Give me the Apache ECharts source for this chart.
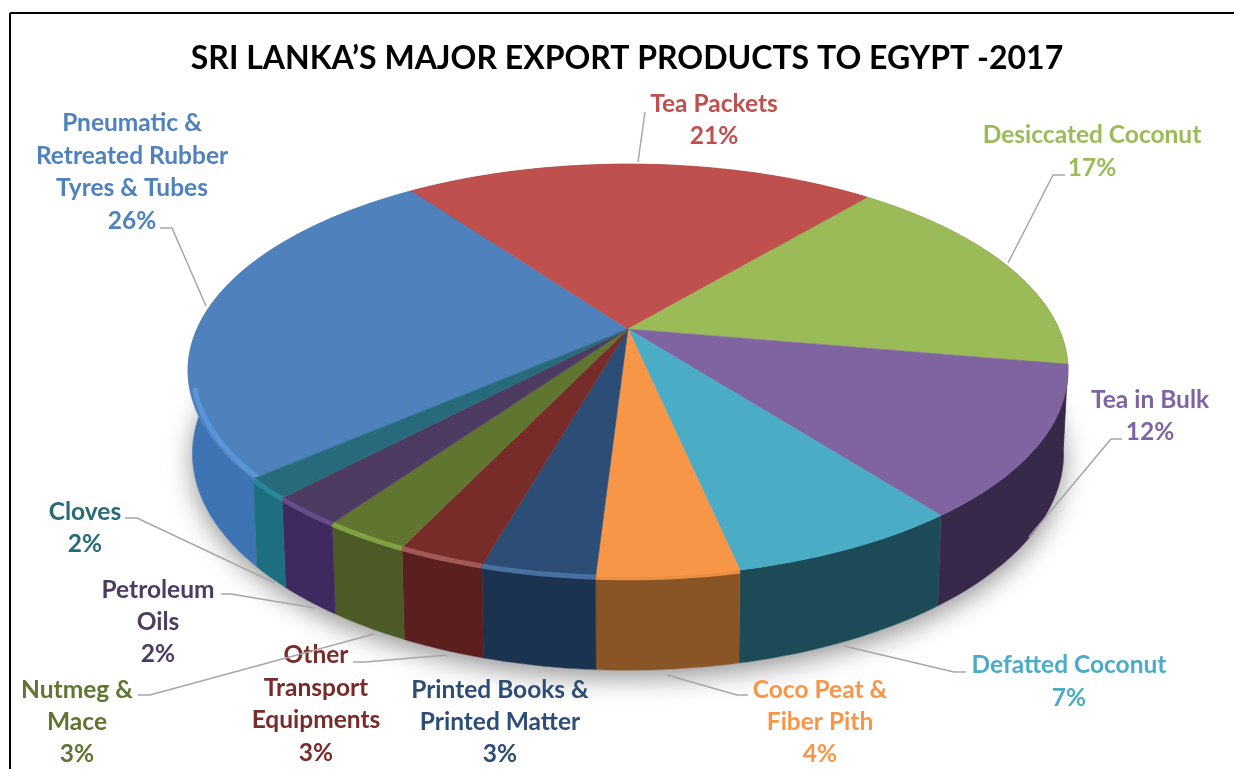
<!DOCTYPE html>
<html>
<head>
<meta charset="utf-8">
<style>html,body{margin:0;padding:0;background:#fff}#chart{width:1234px;height:769px}</style>
<script src="https://cdn.jsdelivr.net/npm/echarts@6/dist/echarts.min.js"></script>
</head>
<body>
<div id="chart"></div>
<script>
// ---- data ----
const categories = ['Pneumatic &\nRetreated Rubber\nTyres & Tubes','Tea Packets','Desiccated Coconut','Tea in Bulk','Defatted Coconut','Coco Peat &\nFiber Pith','Printed Books &\nPrinted Matter','Other\nTransport\nEquipments','Nutmeg &\nMace','Petroleum\nOils','Cloves'];
const values = [26.45,21.0,16.65,11.8,7.1,4.3,3.45,2.65,2.65,2.3,1.6];
const titleText = 'SRI LANKA\u2019S MAJOR EXPORT PRODUCTS TO EGYPT -2017';
// ---- styles ----
const topColors  = ['#4f81bd','#c0504d','#9bbb59','#8064a2','#4bacc6','#f79646','#2c4d75','#772c2a','#5f7530','#4d3b62','#276a7c'];
const wallColors = ['#3f74b4','#7a2f2d','#5f7530','#38294a','#1c4a56','#8a5526','#1b3250','#5a1f1e','#4c5b25','#3e2a5f','#1d6e80'];
const bevelColors= ['#5a98dc',null,null,null,null,'#f79646','#4f76a6','#a85f5e','#86a845','#6b4f8f','#2b8a9c'];
// ---- label layout ----
const labelCenters = [[132,172],[714,120],[1092,151.5],[1150,416],[1069,681.5],[820,722],[500,722],[316,704],[77,722],[158,622],[85,528]];
const leaderPaths = [
 [[160,228],[172,228],[206,306]],
 [[645,112],[638,162]],
 [[1065,175],[1053,175],[1008,263]],
 [[1122,439],[1111,439],[1029,537]],
 [[966,672],[954,672],[844,646]],
 [[748,695],[737,695],[667,675]],
 [],
 [[353,662],[365,662],[447,655]],
 [[138,695],[150,695],[374,634]],
 [[221,594],[231,594],[315,608]],
 [[125,518],[137,518],[275,583]]
];
// ---- pie projection ----
const startDeg = 229, apex = [628,329], persp = 0.201, radX = 431, radY = 198;
const total = values.reduce((a,b)=>a+b,0);
const slices = []; let acc = 0;
values.forEach((v,i)=>{ slices.push([acc, acc+v, i]); acc += v; });
function project(pct, layer){
  const t = (startDeg + pct/total*360) * Math.PI/180, u = Math.sin(t), v = -Math.cos(t), s = 1/(1-persp*v);
  if(layer===1) return [apex[0]+radX*0.99*u*s, apex[1]+81+radY*1.05*v*s];
  return [apex[0]+radX*u*s, apex[1]+radY*v*s];
}
function arc(a,b,layer,n){ const p=[]; n=n||Math.max(8,Math.ceil((b-a)*3)); for(let k=0;k<=n;k++) p.push(project(a+(b-a)*k/n,layer)); return p; }

const chart = echarts.init(document.getElementById('chart'),null,{renderer:'canvas'});
chart.setOption({
  animation:false,
  backgroundColor:'#fff',
  title:{text:titleText,left:622,top:38,textAlign:'center',textStyle:{fontFamily:'Lato',fontWeight:'bold',fontSize:32,color:'#000'}},
  graphic:[
    {type:'line',shape:{x1:10,y1:13,x2:1234,y2:13},style:{stroke:'#000',lineWidth:2}},
    {type:'line',shape:{x1:10,y1:13,x2:10,y2:769},style:{stroke:'#000',lineWidth:2}}
  ],
  series:[
    {type:'custom',coordinateSystem:'none',z:1,silent:true,data:[[0,total]],
     renderItem(p,api){
       return {type:'polygon',shape:{points:arc(api.value(0),api.value(1),1,200)},
         style:{fill:'#fff',shadowColor:'rgba(0,0,0,0.42)',shadowBlur:26,shadowOffsetY:8}};
     }},
    {type:'custom',coordinateSystem:'none',z:2,silent:true,data:slices,
     renderItem(p,api){
       const a=api.value(0),b=api.value(1),i=api.value(2);
       const pts=arc(a,b,0).concat(arc(a,b,1).reverse());
       return {type:'polygon',shape:{points:pts},style:{fill:wallColors[i],stroke:wallColors[i],lineWidth:0.5}};
     }},
    {type:'custom',coordinateSystem:'none',z:3,silent:true,data:slices,
     renderItem(p,api){
       const a=api.value(0),b=api.value(1),i=api.value(2);
       const rim=arc(a,b,0);
       const kids=[{type:'polygon',shape:{points:[apex].concat(rim)},style:{fill:topColors[i],stroke:topColors[i],lineWidth:0.5}}];
       if(bevelColors[i]){
         const bEnd = i===0 ? a+(b-a)*0.26 : b;
         const inset = i===0 ? 0.988 : 1;
         const pts = arc(a,bEnd,0).map(q=>[apex[0]+(q[0]-apex[0])*inset, apex[1]+(q[1]-apex[1])*inset+1]);
         kids.push({type:'polyline',shape:{points:pts},style:{fill:null,stroke:bevelColors[i],lineWidth:5,opacity:0.9}});
       }
       return {type:'group',children:kids};
     }},
    {type:'custom',coordinateSystem:'none',z:4,silent:true,data:slices,
     renderItem(p,api){
       const i=api.value(2);
       const pct=Math.round(values[i])+'%';
       const c=labelCenters[i];
       const kids=[];
       if(leaderPaths[i].length) kids.push({type:'polyline',shape:{points:leaderPaths[i]},style:{fill:null,stroke:'#a6a6a6',lineWidth:1.5}});
       kids.push({type:'text',x:c[0],y:c[1],style:{text:categories[i]+'\n'+pct,align:'center',verticalAlign:'middle',fill:topColors[i],fontFamily:'Lato',fontWeight:'bold',fontSize:24.5,lineHeight:32.4}});
       return {type:'group',children:kids};
     }}
  ]
});
</script>
</body>
</html>
